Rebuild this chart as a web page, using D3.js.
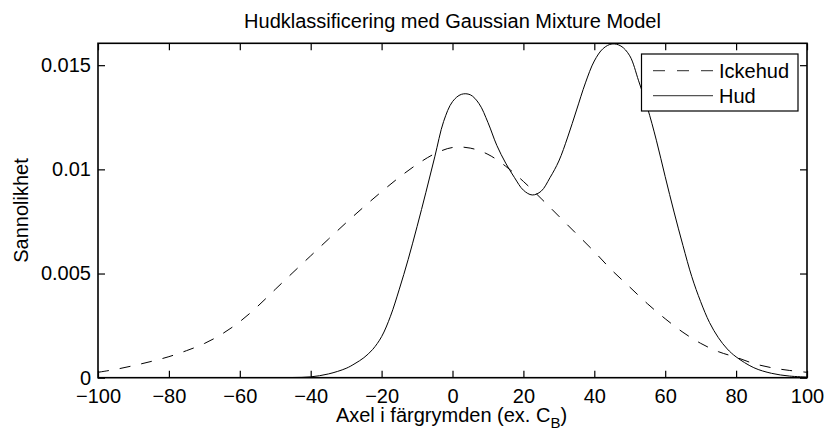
<!DOCTYPE html>
<html>
<head>
<meta charset="utf-8">
<script src="https://cdn.jsdelivr.net/npm/d3@7"></script>
<style>
    body { margin: 0; background: white; }
    text { font-family: "Liberation Sans", Arial, Helvetica, sans-serif; fill: black; }
</style>
</head>
<body>
<main></main>
<script>
// values
const ickehudX = [-100, -95, -90, -85, -80, -75, -70, -65, -60, -55, -50, -45, -40, -35, -30, -25, -20, -15, -10, -5,
    0, 5, 10, 15, 20, 25, 30, 35, 40, 45, 50, 55, 60, 65, 70, 75, 80, 85, 90, 95, 100]
const ickehudY = [0.00026, 0.00040, 0.00058, 0.00078, 0.00101, 0.00130, 0.00164, 0.00210, 0.00269, 0.00342,
    0.00424, 0.00505, 0.00585, 0.00665, 0.00744, 0.00820, 0.00893, 0.00962, 0.01024, 0.01075,
    0.01105, 0.01102, 0.01072, 0.01015, 0.00942, 0.00860, 0.00775, 0.00690, 0.00605, 0.00515,
    0.00435, 0.00355, 0.00283, 0.00218, 0.00165, 0.00125, 0.00098, 0.00068, 0.00048, 0.00035, 0.00026]

const hudX = [-100, -90, -80, -70, -60, -50, -45, -40, -35, -30, -27.5, -25, -22.5, -20, -17.5, -15, -12.5, -10, -7.5, -5, -2.5,
    0, 2.5, 5, 7.5, 10, 12.5, 15, 17.5, 20, 22.5, 25, 27.5, 30, 32.5, 35, 37.5, 40, 42.5, 45, 47.5,
    50, 52.5, 55, 57.5, 60, 62.5, 65, 67.5, 70, 72.5, 75, 77.5, 80, 85, 90, 95, 100]
const hudY = [0, 0, 0, 0, 0, 0, 0.00001, 0.00004, 0.00018, 0.00045, 0.00068, 0.00096, 0.00136, 0.00197, 0.00295, 0.00425, 0.00568, 0.00725, 0.00890, 0.01060, 0.01230,
    0.01325, 0.01360, 0.01358, 0.01315, 0.01225, 0.01115, 0.01030, 0.00960, 0.00900, 0.00877, 0.00895, 0.00960, 0.01040, 0.01155, 0.01285, 0.01415, 0.01520, 0.01580, 0.01602, 0.01592,
    0.01545, 0.01425, 0.01295, 0.01140, 0.00965, 0.00795, 0.00635, 0.00485, 0.00365, 0.00265, 0.00192, 0.00138, 0.00100, 0.00048, 0.00021, 0.00008, 0.00003]

const xTicks = [-100, -80, -60, -40, -20, 0, 20, 40, 60, 80, 100]
const yTicks = [0, 0.005, 0.01, 0.015]
const legendLabels = ["Ickehud", "Hud"]

const svgWidth = 825
const svgHeight = 430

const plotLeft = 98
const plotRight = 807
const plotTop = 43.3
const plotBottom = 377.7
const tickLen = 7
const fontSize = 20

let svg = d3.select("main")
    .append("svg")
    .attr("width", svgWidth)
    .attr("height", svgHeight)
    .style("display", "block")
    .style("background-color", "white")

let xScale = d3.scaleLinear()
    .domain([-100, 100])
    .range([plotLeft, plotRight])

let yScale = d3.scaleLinear()
    .domain([0, 0.01605])
    .range([plotBottom, plotTop])

svg.append("clipPath")
    .attr("id", "plotArea")
    .append("rect")
    .attr("x", plotLeft)
    .attr("y", plotTop)
    .attr("width", plotRight - plotLeft)
    .attr("height", plotBottom - plotTop)

// axes, ticks pointing inwards on all four sides
let xAxis = svg.append("g")
    .attr("transform", `translate(0, ${plotBottom})`)
    .call(d3.axisBottom(xScale).tickValues(xTicks).tickSizeInner(-tickLen).tickSizeOuter(0).tickPadding(11))

let xAxisTop = svg.append("g")
    .attr("transform", `translate(0, ${plotTop})`)
    .call(d3.axisTop(xScale).tickValues(xTicks).tickSizeInner(-tickLen).tickSizeOuter(0).tickFormat(""))

let yAxis = svg.append("g")
    .attr("transform", `translate(${plotLeft}, 0)`)
    .call(d3.axisLeft(yScale).tickValues(yTicks).tickSizeInner(-tickLen).tickSizeOuter(0).tickPadding(7).tickFormat(d3.format("~g")))

let yAxisRight = svg.append("g")
    .attr("transform", `translate(${plotRight}, 0)`)
    .call(d3.axisRight(yScale).tickValues(yTicks).tickSizeInner(-tickLen).tickSizeOuter(0).tickFormat(""))

svg.selectAll(".domain").remove()

svg.selectAll(".tick line")
    .attr("stroke", "black")
    .attr("stroke-width", 1.2)

svg.selectAll(".tick text")
    .attr("fill", "black")
    .style("font-size", fontSize + "px")
    .style("font-family", "'Liberation Sans', Arial, Helvetica, sans-serif")

// the curves
let line = d3.line()
    .x(d => xScale(d[0]))
    .y(d => yScale(d[1]))
    .curve(d3.curveCatmullRom)

let curves = svg.append("g")
    .attr("clip-path", "url(#plotArea)")

curves.append("path")
    .datum(d3.zip(ickehudX, ickehudY))
    .attr("d", line)
    .attr("fill", "none")
    .attr("stroke", "black")
    .attr("stroke-width", 1)
    .attr("stroke-dasharray", "11,11")

curves.append("path")
    .datum(d3.zip(hudX, hudY))
    .attr("d", line)
    .attr("fill", "none")
    .attr("stroke", "black")
    .attr("stroke-width", 1)

// box
svg.append("rect")
    .attr("x", plotLeft)
    .attr("y", plotTop)
    .attr("width", plotRight - plotLeft)
    .attr("height", plotBottom - plotTop)
    .attr("fill", "none")
    .attr("stroke", "black")
    .attr("stroke-width", 1.6)

// titles
svg.append("text")
    .attr("x", 452.5)
    .attr("y", 28)
    .attr("text-anchor", "middle")
    .style("font-size", fontSize + "px")
    .text("Hudklassificering med Gaussian Mixture Model")

let xLabel = svg.append("text")
    .attr("x", 451.5)
    .attr("y", 422)
    .attr("text-anchor", "middle")
    .style("font-size", fontSize + "px")

xLabel.append("tspan").text("Axel i färgrymden (ex. C")
xLabel.append("tspan").attr("dy", 6).style("font-size", "15px").text("B")
xLabel.append("tspan").attr("dy", -6).text(")")

svg.append("text")
    .attr("transform", `translate(28, ${(plotTop + plotBottom) / 2}) rotate(-90)`)
    .attr("text-anchor", "middle")
    .style("font-size", fontSize + "px")
    .text("Sannolikhet")

// legend
let legend = svg.append("g")

legend.append("rect")
    .attr("x", 641.5)
    .attr("y", 54)
    .attr("width", 156.5)
    .attr("height", 57)
    .attr("fill", "white")
    .attr("stroke", "black")
    .attr("stroke-width", 1.2)

let legendRows = legend.selectAll("g.row")
    .data(legendLabels)
    .enter()
    .append("g")
    .attr("class", "row")
    .attr("transform", (d, i) => `translate(0, ${70.7 + i * 25})`)

legendRows.append("line")
    .attr("x1", 653)
    .attr("x2", 713)
    .attr("y1", 0)
    .attr("y2", 0)
    .attr("stroke", "#555")
    .attr("stroke-width", 1.2)
    .attr("stroke-dasharray", (d, i) => i === 0 ? "12,12" : null)

legendRows.append("text")
    .attr("x", 719)
    .attr("y", 0)
    .attr("dy", "0.34em")
    .style("font-size", fontSize + "px")
    .text(d => d)
</script>
</body>
</html>
